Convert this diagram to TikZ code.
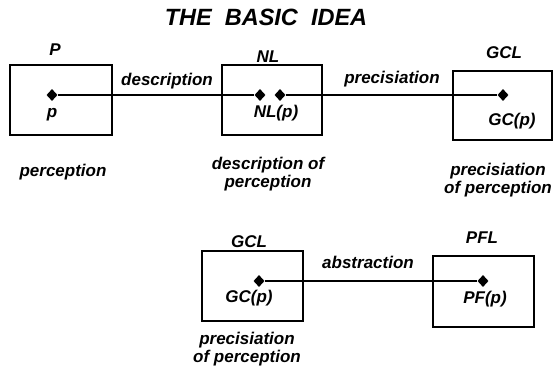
\documentclass[tikz,border=0pt]{standalone}
\usepackage{fontspec}
\setmainfont{Liberation Sans}
\usetikzlibrary{shapes.geometric}
\begin{document}
\begin{tikzpicture}[x=1pt,y=-1pt,
  lbl/.style={font=\fontsize{17}{18}\selectfont\bfseries\itshape, inner sep=0pt, anchor=base, align=center},
  ttl/.style={font=\fontsize{23.5}{26}\selectfont\bfseries\itshape, inner sep=0pt, anchor=base},
  frame/.style={draw, line width=1.2pt, inner sep=0pt},
  dot/.style={diamond, fill=black, inner sep=0pt, minimum width=11pt, minimum height=12pt},
  link/.style={line width=1.2pt}]
\useasboundingbox (0,0) rectangle (554,372);

% title
\node[ttl] (title) at (266,25) {THE\ \ BASIC\ \ IDEA};

% top row: frames
\node[frame, minimum width=102pt, minimum height=70pt] (fP) at (61,100) {};
\node[frame, minimum width=100pt, minimum height=70pt] (fNL) at (272,100) {};
\node[frame, minimum width=99pt, minimum height=69pt] (fGC) at (502.5,105.5) {};

% top row: frame titles
\node[lbl] (tP) at (55,55) {P};
\node[lbl] (tNL) at (268,62) {NL};
\node[lbl] (tGC) at (504,58) {GCL};

% top row: points
\node[dot] (dp) at (52,95) {};
\node[dot] (dnl1) at (260,95) {};
\node[dot] (dnl2) at (280,95) {};
\node[dot] (dgc) at (503,95) {};

\node[lbl] (lp) at (52,117) {p};
\node[lbl] (lnl) at (276,117) {NL(p)};
\node[lbl] (lgc) at (512,125) {GC(p)};

% top row: mappings
\draw[link] (dp) -- (dnl1);
\draw[link] (dnl2) -- (dgc);
\node[lbl] (ldesc) at (167,85) {description};
\node[lbl] (lprec) at (392,83) {precisiation};

% top row: captions (two-line captions sit on the baseline of their last line)
\node[lbl] (cP) at (63,176) {perception};
\node[lbl] (cNL) at (268,187) {description of\\perception};
\node[lbl] (cGC) at (498,193) {precisiation\\of perception};

% bottom row: frames
\node[frame, minimum width=101pt, minimum height=70pt] (fGC2) at (252.5,286) {};
\node[frame, minimum width=101pt, minimum height=71pt] (fPF) at (483.5,291.5) {};

\node[lbl] (tGC2) at (249,247) {GCL};
\node[lbl] (tPF) at (482,243) {PFL};

\node[dot] (dgc2) at (259,281) {};
\node[dot] (dpf) at (483,281) {};

\node[lbl] (lgc2) at (249,302) {GC(p)};
\node[lbl] (lpf) at (485,303) {PF(p)};

\draw[link] (dgc2) -- (dpf);
\node[lbl] (labs) at (368,268) {abstraction};

\node[lbl] (cGC2) at (247,362) {precisiation\\of perception};
\end{tikzpicture}
\end{document}
